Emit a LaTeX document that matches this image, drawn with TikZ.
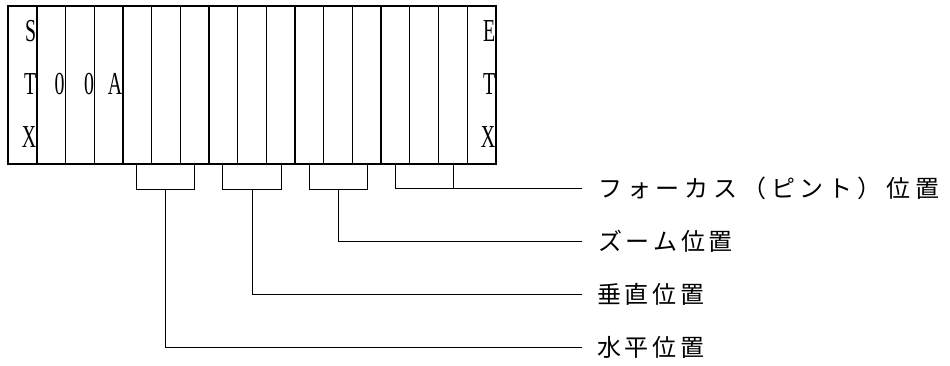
\documentclass[tikz,border=0pt]{standalone}
\usepackage{fontspec}
\setmainfont{Liberation Serif}
\newfontfamily\jp{Noto Sans CJK JP}
\newcommand\jsa{\hspace{4.8pt}}
\newcommand\jsb{\hspace{3.6pt}}
\begin{document}
\begin{tikzpicture}[x=1pt,y=-1pt,
  cell/.style={draw,line width=1.1pt,minimum width=28.706pt,minimum height=158pt,inner sep=0pt,outer sep=0pt},
  let/.style={anchor=east,inner sep=0pt,font=\fontsize{32}{32}\selectfont},
  conn/.style={line width=1pt},
  jl/.style={anchor=west,inner sep=0pt,font=\jp\fontsize{24}{24}\selectfont}]
\useasboundingbox (0,0) rectangle (950,365);
\foreach \i in {1,...,17} \node[cell] (c\i) at ({8+(\i-0.5)*28.706},85) {};
\draw[line width=1.8pt] (c1.north west) rectangle (c17.south east);
\foreach \i in {1,4,7,10,13,16} \draw[line width=1.6pt] (c\i.north east) -- (c\i.south east);
% letters
\node[let] (s1) at (36.4,31) {\scalebox{0.62}[1]{S}};
\node[let] (s2) at (36.4,84) {\scalebox{0.62}[1]{T}};
\node[let] (s3) at (36.4,137) {\scalebox{0.62}[1]{X}};
\node[let] (z1) at (64.8,84) {\scalebox{0.62}[1]{0}};
\node[let] (z2) at (94.2,84) {\scalebox{0.62}[1]{0}};
\node[let] (a1) at (122.5,84) {\scalebox{0.62}[1]{A}};
\node[let] (e1) at (495.5,31) {\scalebox{0.62}[1]{E}};
\node[let] (e2) at (495.5,84) {\scalebox{0.62}[1]{T}};
\node[let] (e3) at (495.5,137) {\scalebox{0.62}[1]{X}};
% labels
\node[jl] (l4) at (598,188) {フ\jsa ォ\jsa ー\jsa カ\jsa ス\jsa （\jsa ピ\jsa ン\jsa ト\jsa ）\jsa 位\jsa 置};
\node[jl] (l3) at (598,241) {ズ\jsb ー\jsb ム\jsb 位\jsb 置};
\node[jl] (l2) at (597,294) {垂\jsb 直\jsb 位\jsb 置};
\node[jl] (l1) at (597,347) {水\jsb 平\jsb 位\jsb 置};
\coordinate (k4) at (582,188);
\coordinate (k3) at (582,241);
\coordinate (k2) at (582,294);
\coordinate (k1) at (582,347);
% brackets
\draw[conn] ([xshift=14pt]c5.south west) -- ++(0,25) -| ([xshift=-14pt]c7.south east);
\draw[conn] ([xshift=14pt]c8.south west) -- ++(0,25) -| ([xshift=-14pt]c10.south east);
\draw[conn] ([xshift=14pt]c11.south west) -- ++(0,25) -| ([xshift=-14pt]c13.south east);
\draw[conn] ([xshift=14pt]c14.south west) |- (k4);
\draw[conn] ([xshift=-14pt]c16.south east) -- ++(0,24);
% stems
\draw[conn] ([yshift=-25pt]c6.south) |- (k1);
\draw[conn] ([yshift=-25pt]c9.south) |- (k2);
\draw[conn] ([yshift=-25pt]c12.south) |- (k3);
\end{tikzpicture}
\end{document}
